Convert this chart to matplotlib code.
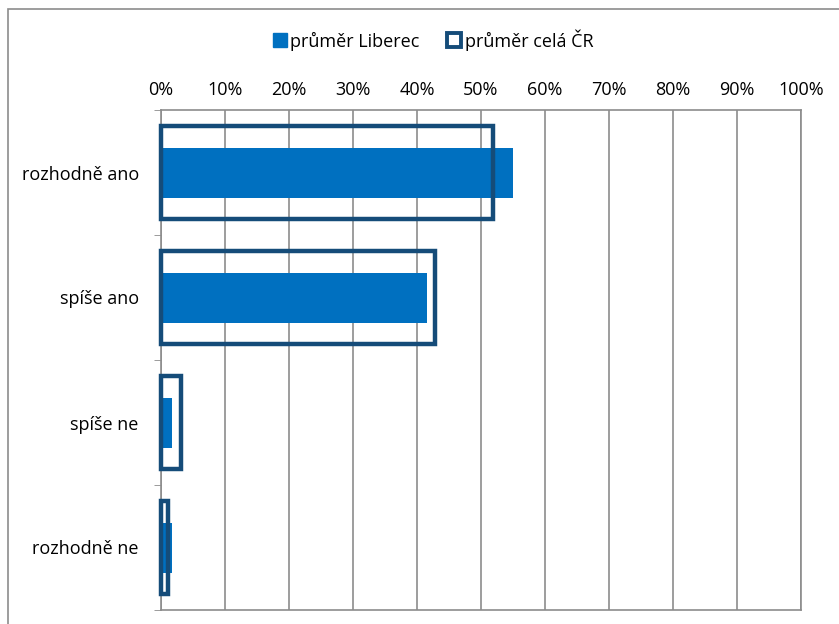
import numpy as np
import matplotlib.pyplot as plt
from matplotlib.patches import Rectangle

categories = ["rozhodně ano", "spíše ano", "spíše ne", "rozhodně ne"]
liberec = [55.0, 41.6, 1.7, 1.7]
cr = [51.9, 42.8, 3.1, 1.1]
xticks = list(range(0, 101, 10))
xtick_labels = [f"{v}%" for v in xticks]

plt.rcParams['font.family'] = ['Open Sans', 'DejaVu Sans']

fig = plt.figure(figsize=(8.39, 6.24), dpi=100)
W, H = 839, 624
ax = fig.add_axes([161 / W, 1 - 610 / H, 640 / W, 500 / H])

# outer chart border (cut off at right and bottom in the reference)
fig.patches.append(Rectangle((8 / W, -0.1), 1.2, 1 - 9 / H + 0.1, transform=fig.transFigure,
                             fill=False, edgecolor='#8c8c8c', linewidth=1.2))

y = np.arange(len(categories))
ax.barh(y, liberec, height=0.4, color='#0070C0', zorder=2, label='průměr Liberec')
ax.barh(y, cr, height=0.75, facecolor='none', edgecolor='#154C79', linewidth=3.2,
        zorder=3, label='průměr celá ČR', clip_on=False)

ax.set_xlim(0, 100)
ax.set_ylim(len(categories) - 0.5, -0.5)
ax.xaxis.tick_top()
ax.set_xticks(xticks)
ax.set_xticklabels(xtick_labels, fontsize=13)
ax.tick_params(axis='x', length=0, pad=8)
ax.set_yticks(y)
ax.set_yticklabels(categories, fontsize=13)
ax.set_yticks(np.arange(-0.5, len(categories), 1), minor=True)
ax.tick_params(axis='y', which='major', length=0, pad=16)
ax.tick_params(axis='y', which='minor', length=5, color='#8c8c8c')
ax.grid(True, axis='x', color='#8c8c8c', linewidth=1.2, zorder=0)
ax.set_axisbelow(True)
for s in ax.spines.values():
    s.set_color('#8c8c8c')
    s.set_linewidth(1.2)

h1 = plt.Line2D([], [], marker='s', linestyle='none', markersize=10,
                markerfacecolor='#0070C0', markeredgecolor='#0070C0')
h2 = plt.Line2D([], [], marker='s', linestyle='none', markersize=10,
                markerfacecolor='white', markeredgecolor='#154C79', markeredgewidth=2.8)
fig.legend([h1, h2], ['průměr Liberec', 'průměr celá ČR'], loc='center',
           bbox_to_anchor=(432 / W, 1 - 40 / H), ncol=2, frameon=False, fontsize=13,
           handletextpad=0.1, columnspacing=1.4, handlelength=1.0)

fig.savefig("out.png", dpi=100)
